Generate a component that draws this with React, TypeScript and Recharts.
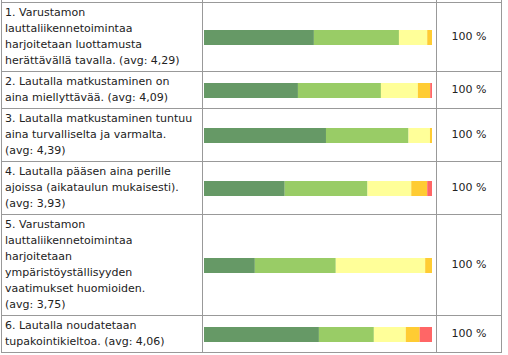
import React from 'react';
import { BarChart, Bar, XAxis, YAxis } from 'recharts';

// Questions (rows) and their average score
const questions = [
  '1. Varustamon lauttaliikennetoimintaa harjoitetaan luottamusta herättävällä tavalla.',
  '2. Lautalla matkustaminen on aina miellyttävää.',
  '3. Lautalla matkustaminen tuntuu aina turvalliselta ja varmalta.',
  '4. Lautalla pääsen aina perille ajoissa (aikataulun mukaisesti).',
  '5. Varustamon lauttaliikennetoimintaa harjoitetaan ympäristöyställisyyden vaatimukset huomioiden.',
  '6. Lautalla noudatetaan tupakointikieltoa.',
];
const averages = [4.29, 4.09, 4.39, 3.93, 3.75, 4.06];
const totals = [100, 100, 100, 100, 100, 100];

// Share of answers per scale step in %, 5 = fully agree
const score5 = [48.2, 41.2, 53.5, 35.4, 22.3, 50.4];
const score4 = [37.3, 36.4, 36.2, 36.3, 35.5, 24.1];
const score3 = [12.4, 16.2, 9.4, 19.2, 39.2, 14.0];
const score2 = [2.1, 5.4, 0.9, 7.0, 3.0, 6.1];
const score1 = [0, 0.8, 0, 2.1, 0, 5.4];

const scaleTicks = [0, 20, 40, 60, 80];

const colors = {
  s5: '#669966',
  s4: '#99cc66',
  s3: '#ffff99',
  s2: '#ffcc33',
  s1: '#ff6666',
};

const BORDER = '1px solid #999';

const rows = questions.map((q, i) => ({
  name: q,
  avg: averages[i],
  total: totals[i],
  s5: score5[i],
  s4: score4[i],
  s3: score3[i],
  s2: score2[i],
  s1: score1[i],
}));

const fmtAvg = (v: number) => v.toFixed(2).replace('.', ',');
const label = (r: (typeof rows)[number]) => `${r.name} (avg:\u00a0${fmtAvg(r.avg)})`;

const RowBar = ({ row }: { row: (typeof rows)[number] }) => (
  <BarChart
    width={232}
    height={15}
    data={[row]}
    layout="vertical"
    margin={{ top: 0, right: 3, bottom: 0, left: 1 }}
    barCategoryGap={0}
  >
    <XAxis type="number" domain={[0, 100]} hide />
    <YAxis type="category" dataKey="name" hide />
    {(['s5', 's4', 's3', 's2', 's1'] as const).map((k) => (
      <Bar key={k} dataKey={k} stackId="a" fill={colors[k]} isAnimationActive={false} />
    ))}
  </BarChart>
);

export default function App() {
  const col1: React.CSSProperties = {
    width: 201,
    boxSizing: 'border-box',
    borderLeft: BORDER,
    padding: '2px 7px 2px 3px',
  };
  const col2: React.CSSProperties = {
    width: 234,
    boxSizing: 'border-box',
    borderLeft: BORDER,
    display: 'flex',
    alignItems: 'center',
  };
  const col3: React.CSSProperties = {
    width: 66,
    boxSizing: 'border-box',
    borderLeft: BORDER,
    borderRight: BORDER,
    display: 'flex',
    alignItems: 'center',
    justifyContent: 'center',
  };

  return (
    <div
      style={{
        position: 'absolute',
        left: 0,
        top: 0,
        width: 508,
        height: 355,
        background: '#fff',
        overflow: 'hidden',
        fontFamily: '"DejaVu Sans", Verdana, sans-serif',
        fontSize: 11,
        lineHeight: '16px',
        color: '#222',
      }}
    >
      <div style={{ position: 'absolute', left: 1, top: 0, width: 501 }}>
        {/* header strip, only the bottom of it is visible */}
        <div style={{ display: 'flex', height: 3, boxSizing: 'border-box', borderBottom: BORDER }}>
          <div style={{ ...col1, padding: 0 }} />
          <div style={{ ...col2, alignItems: 'flex-start', fontSize: 0, lineHeight: 0 }}>
            <BarChart
              width={233}
              height={2}
              data={rows}
              layout="vertical"
              margin={{ top: 0, right: 0, bottom: 0, left: 1 }}
            >
              <XAxis
                type="number"
                domain={[0, 100]}
                ticks={scaleTicks}
                orientation="top"
                height={2}
                tickSize={2}
                tick={false}
                axisLine={false}
                tickLine={{ stroke: '#999' }}
              />
              <YAxis type="category" dataKey="name" hide />
            </BarChart>
          </div>
          <div style={col3} />
        </div>

        {rows.map((r, i) => (
          <div key={i} style={{ display: 'flex', borderBottom: BORDER }}>
            <div style={col1}>{label(r)}</div>
            <div style={col2}>
              <RowBar row={r} />
            </div>
            <div style={col3}>{`${r.total} %`}</div>
          </div>
        ))}
      </div>
    </div>
  );
}
